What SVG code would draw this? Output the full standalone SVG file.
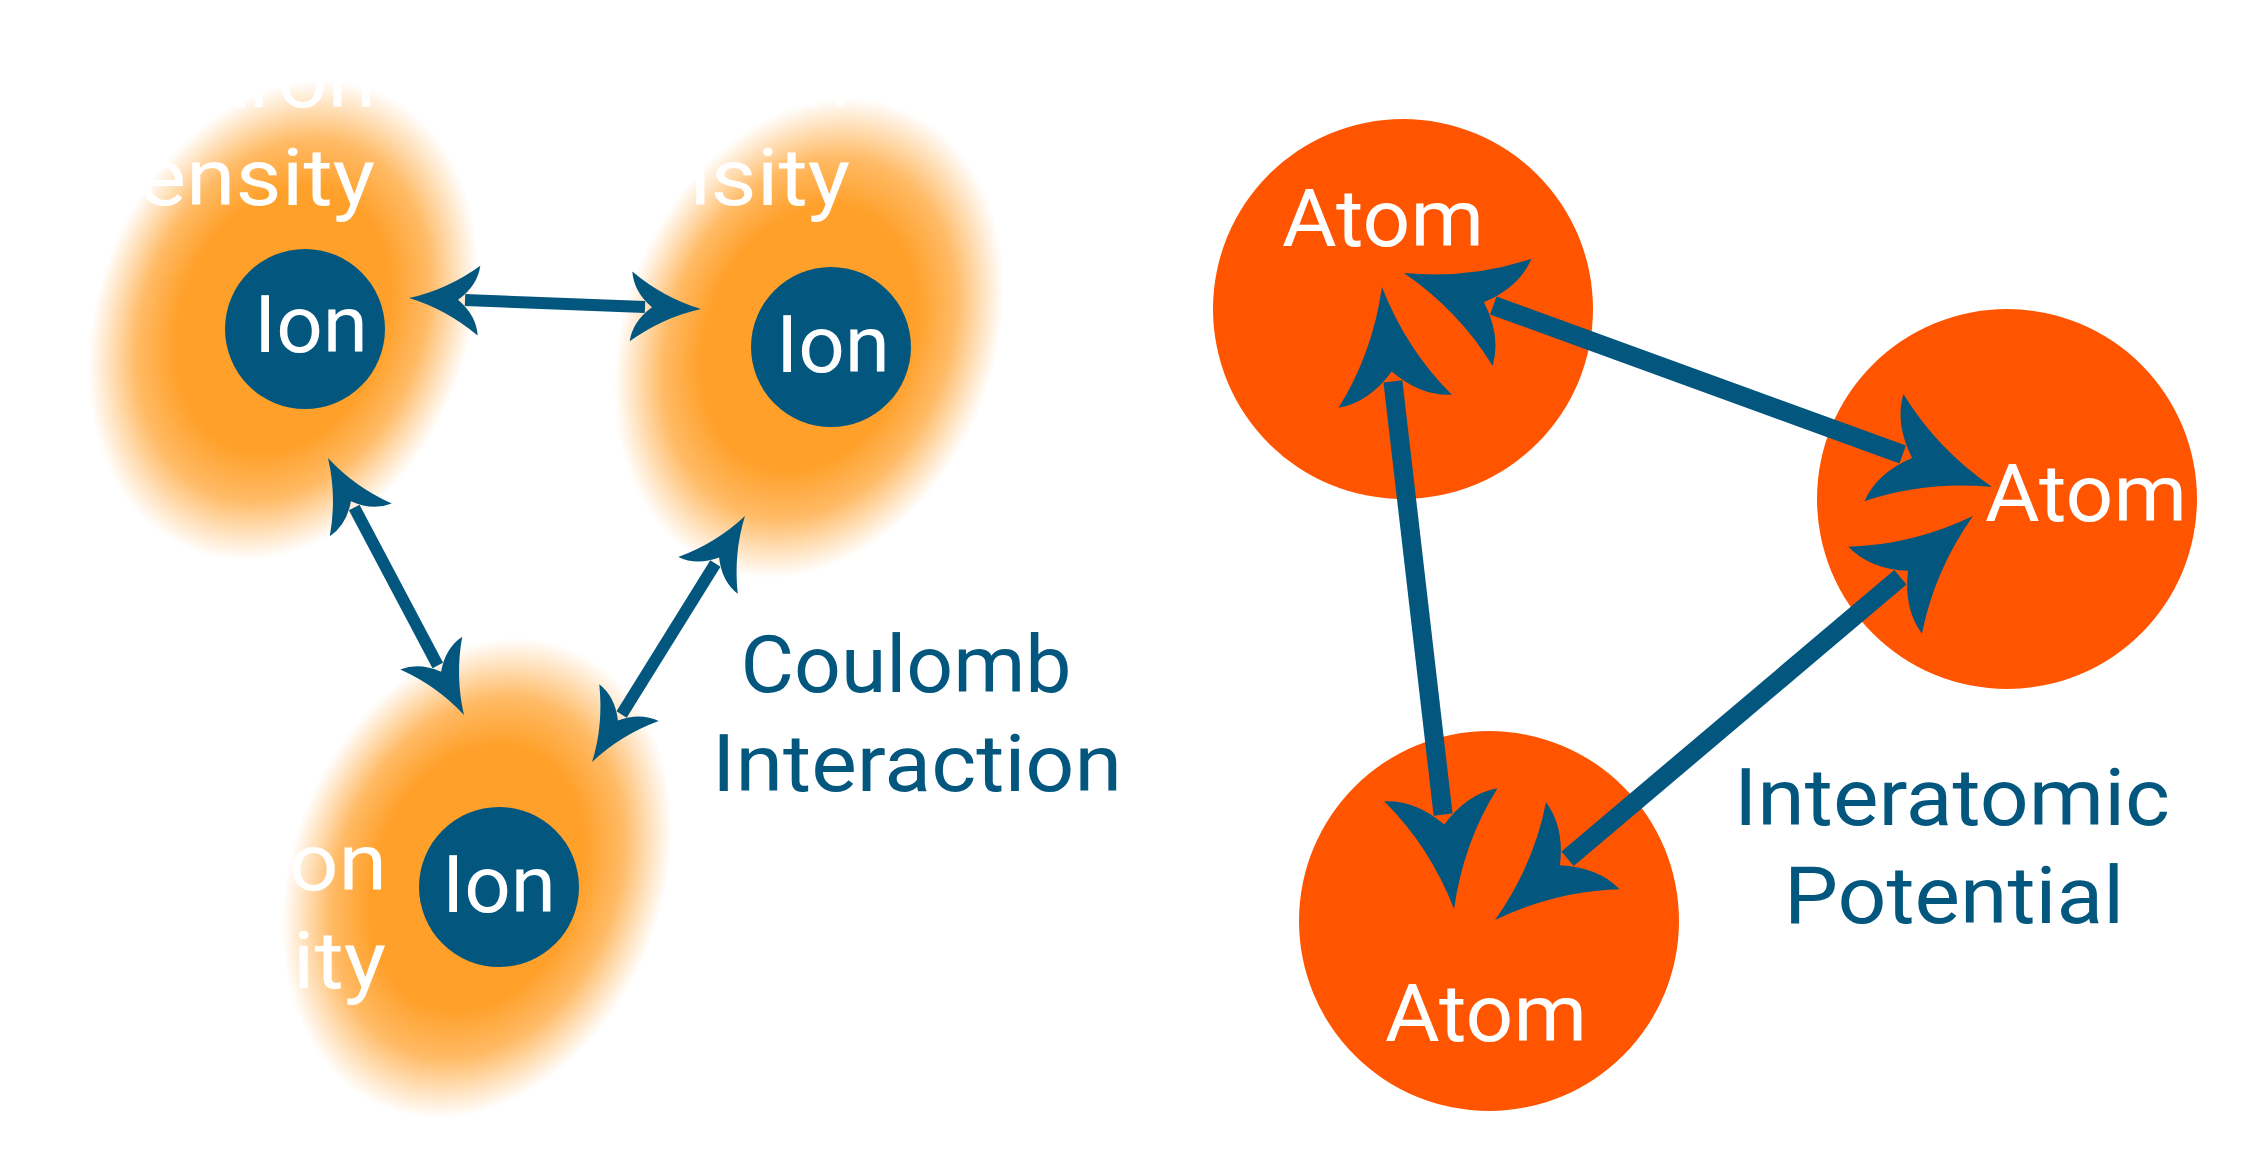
<svg xmlns="http://www.w3.org/2000/svg" width="2246" height="1163" viewBox="0 0 2246 1163">
  <style>
    .txt { font-family: Roboto, "Open Sans", "Liberation Sans", sans-serif; font-size: 80px; font-weight: 400; }
    .white { fill: #ffffff; }
    .blue { fill: #03577f; }
    .ion { fill: #03577f; }
    .atom { fill: #ff5500; }
    .blob { fill: url(#cloud); }
    .conn-s { fill: none; stroke: #03577f; stroke-width: 12; marker-start: url(#ah-small); marker-end: url(#ah-small); }
    .conn-b { fill: none; stroke: #03577f; stroke-width: 19; marker-start: url(#ah-big); marker-end: url(#ah-big); }
  </style>
  <defs>
    <radialGradient id="cloud" cx="0.5" cy="0.5" r="0.5">
      <stop offset="0" stop-color="#ffa02a" stop-opacity="1"/>
      <stop offset="0.55" stop-color="#ffa02a" stop-opacity="1"/>
      <stop offset="0.75" stop-color="#ffa02a" stop-opacity="0.72"/>
      <stop offset="0.9" stop-color="#ffa02a" stop-opacity="0.28"/>
      <stop offset="1" stop-color="#ffa02a" stop-opacity="0"/>
    </radialGradient>
    <marker id="ah-big" markerUnits="userSpaceOnUse" orient="auto-start-reverse" refX="0" refY="0" markerWidth="1" markerHeight="1" overflow="visible">
      <path d="M95,0 Q30,17 -20,57 Q-18,26 10,0 Q-18,-26 -20,-57 Q30,-17 95,0 Z" fill="#03577f"/>
    </marker>
    <marker id="ah-small" markerUnits="userSpaceOnUse" orient="auto-start-reverse" refX="0" refY="0" markerWidth="1" markerHeight="1" overflow="visible">
      <path d="M56,0 Q18,10 -14,35 Q-12,15 7,0 Q-12,-15 -14,-35 Q18,-10 56,0 Z" fill="#03577f"/>
    </marker>
  </defs>
  <rect width="2246" height="1163" fill="#ffffff"/>

  <g id="ion-1">
    <ellipse class="blob" cx="0" cy="0" rx="185" ry="248" transform="translate(283,320) rotate(22)"/>
    <text class="txt white" x="376" y="107" text-anchor="end" textLength="320" lengthAdjust="spacingAndGlyphs">Electron</text>
    <text class="txt white" x="375" y="205" text-anchor="end" textLength="295" lengthAdjust="spacingAndGlyphs">Density</text>
    <circle class="ion" cx="305" cy="329" r="80"/>
    <text class="txt white" x="311" y="352" text-anchor="middle" textLength="114" lengthAdjust="spacingAndGlyphs">Ion</text>
  </g>
  <g id="ion-2">
    <ellipse class="blob" cx="0" cy="0" rx="185" ry="248" transform="translate(809,338) rotate(22)"/>
    <text class="txt white" x="851" y="107" text-anchor="end" textLength="320" lengthAdjust="spacingAndGlyphs">Electron</text>
    <text class="txt white" x="850" y="205" text-anchor="end" textLength="295" lengthAdjust="spacingAndGlyphs">Density</text>
    <circle class="ion" cx="831" cy="347" r="80"/>
    <text class="txt white" x="833" y="372" text-anchor="middle" textLength="114" lengthAdjust="spacingAndGlyphs">Ion</text>
  </g>
  <g id="ion-3">
    <ellipse class="blob" cx="0" cy="0" rx="185" ry="248" transform="translate(477,878) rotate(22)"/>
    <text class="txt white" x="387" y="890" text-anchor="end" textLength="320" lengthAdjust="spacingAndGlyphs">Electron</text>
    <text class="txt white" x="386" y="988" text-anchor="end" textLength="295" lengthAdjust="spacingAndGlyphs">Density</text>
    <circle class="ion" cx="499" cy="887" r="80"/>
    <text class="txt white" x="499" y="912" text-anchor="middle" textLength="114" lengthAdjust="spacingAndGlyphs">Ion</text>
  </g>

  <g id="atom-1">
    <circle class="atom" cx="1403" cy="309" r="190"/>
    <text class="txt white" x="1383" y="246" text-anchor="middle" textLength="202" lengthAdjust="spacingAndGlyphs">Atom</text>
  </g>
  <g id="atom-2">
    <circle class="atom" cx="2007" cy="499" r="190"/>
    <text class="txt white" x="2086" y="521" text-anchor="middle" textLength="202" lengthAdjust="spacingAndGlyphs">Atom</text>
  </g>
  <g id="atom-3">
    <circle class="atom" cx="1489" cy="921" r="190"/>
    <text class="txt white" x="1486" y="1041" text-anchor="middle" textLength="202" lengthAdjust="spacingAndGlyphs">Atom</text>
  </g>

  <g id="connectors">
    <path class="conn-s" d="M465,300.1 L645,306.9"/>
    <path class="conn-s" d="M354.2,507.5 L437.8,665.5"/>
    <path class="conn-s" d="M621.6,714.5 L715.4,563.5"/>
    <path class="conn-b" d="M1493.3,305.5 L1902.7,454.5"/>
    <path class="conn-b" d="M1392.9,381.4 L1443.1,814.6"/>
    <path class="conn-b" d="M1567.6,858.7 L1900.4,577.3"/>
  </g>

  <g id="labels">
    <text class="txt blue" x="906" y="692" text-anchor="middle" textLength="331" lengthAdjust="spacingAndGlyphs">Coulomb</text>
    <text class="txt blue" x="917" y="791" text-anchor="middle" textLength="410" lengthAdjust="spacingAndGlyphs">Interaction</text>
    <text class="txt blue" x="1952" y="825" text-anchor="middle" textLength="436" lengthAdjust="spacingAndGlyphs">Interatomic</text>
    <text class="txt blue" x="1954" y="923" text-anchor="middle" textLength="340" lengthAdjust="spacingAndGlyphs">Potential</text>
  </g>
</svg>
